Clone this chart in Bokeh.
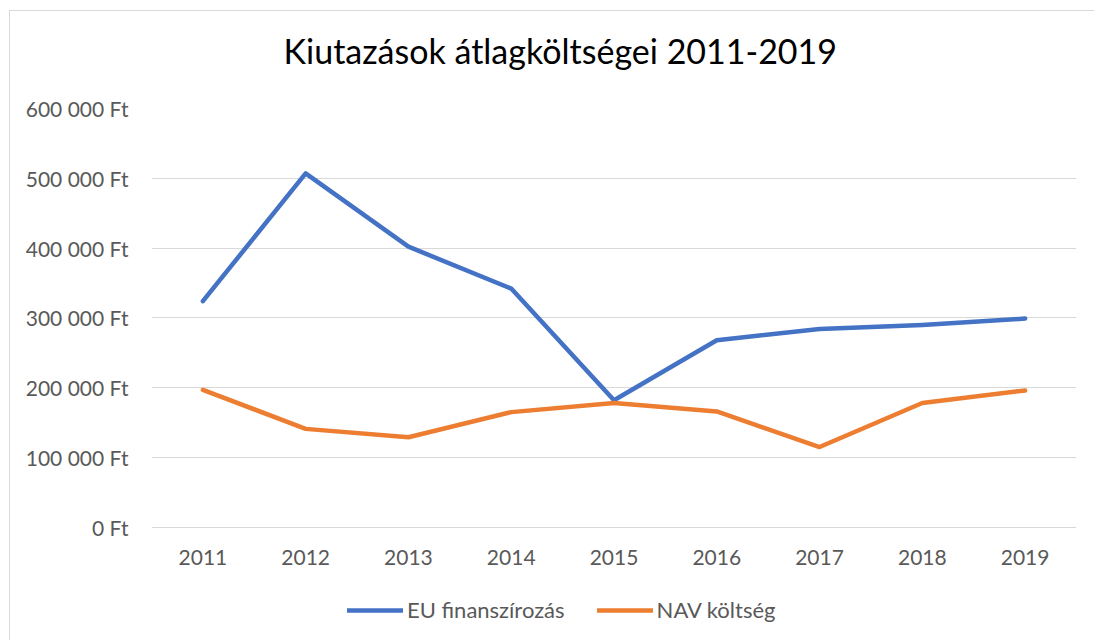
from bokeh.plotting import figure
from bokeh.models import Legend, LegendItem, FactorRange, Title, CustomJSTickFormatter, FixedTicker
from bokeh.embed import file_html
from bokeh.resources import INLINE

years = ["2011", "2012", "2013", "2014", "2015", "2016", "2017", "2018", "2019"]
eu_finanszirozas = [324000, 507000, 402000, 342000, 182000, 268000, 284000, 290000, 299000]
nav_koltseg = [197000, 141000, 129000, 165000, 178000, 166000, 115000, 178000, 196000]
y_ticks = [0, 100000, 200000, 300000, 400000, 500000, 600000]

FONT = "Lato"
GREY = "#595959"

# layout (pixels): frame spans the lower canvas so the legend can sit below the x labels
W, H = 1085, 630
TOP, BOTTOM = 97, 6
zero_px = 418                       # distance from frame top to the 0 Ft gridline
frame_h = H - 1 - TOP - BOTTOM
y_max = y_ticks[-1]
y_min = y_max - y_max * frame_h / zero_px

p = figure(width=W, height=H, x_range=FactorRange(*years), y_range=(y_min, y_max),
           output_backend="svg", toolbar_location=None,
           min_border_left=141, min_border_right=19, min_border_top=TOP, min_border_bottom=BOTTOM)
p.styles = {"margin-left": "9px", "margin-top": "10px",
            "border-left": "1px solid #d9d9d9", "border-top": "1px solid #d9d9d9"}
p.outline_line_color = None
p.x_range.range_padding = 0

# spacer between the title and the plot area
spacer = Title(text=" ", text_font=FONT, text_font_size="10px", standoff=24)
p.add_layout(spacer, "above")
t = Title(text="Kiutazások átlagköltségei 2011-2019", align="left",
          text_font=FONT, text_font_size="34px", text_font_style="normal",
          text_color="#000000", offset=132, standoff=0)
p.add_layout(t, "above")

r1 = p.line(years, eu_finanszirozas, line_color="#4472C4", line_width=4.5,
            line_cap="round", line_join="round")
r2 = p.line(years, nav_koltseg, line_color="#ED7D31", line_width=4.5,
            line_cap="round", line_join="round")

p.yaxis.ticker = FixedTicker(ticks=y_ticks)
p.yaxis.formatter = CustomJSTickFormatter(code="""
    const s = Math.round(tick).toString().replace(/\\B(?=(\\d{3})+(?!\\d))/g, ' ');
    return s + ' Ft';
""")
p.xaxis.fixed_location = 0
for ax in (p.xaxis, p.yaxis):
    ax.axis_line_color = None
    ax.major_tick_line_color = None
    ax.minor_tick_line_color = None
    ax.major_tick_out = 0
    ax.major_tick_in = 0
    ax.minor_tick_out = 0
    ax.minor_tick_in = 0
    ax.major_label_text_font = FONT
    ax.major_label_text_font_size = "21px"
    ax.major_label_text_color = GREY
p.yaxis.major_label_standoff = 23
p.xaxis.major_label_standoff = 23

p.xgrid.grid_line_color = None
p.ygrid.grid_line_color = "#d9d9d9"
p.ygrid.grid_line_width = 1.2

legend = Legend(items=[LegendItem(label="EU finanszírozás", renderers=[r1]),
                       LegendItem(label="NAV költség", renderers=[r2])],
                orientation="horizontal", location=(196, 12),
                label_text_font=FONT, label_text_font_size="22px", label_text_color=GREY,
                glyph_width=56, glyph_height=20, label_standoff=4, spacing=32,
                padding=0, margin=0, border_line_color=None, background_fill_alpha=0)
p.add_layout(legend, "center")

open("out.html", "w").write(file_html(p, INLINE))
